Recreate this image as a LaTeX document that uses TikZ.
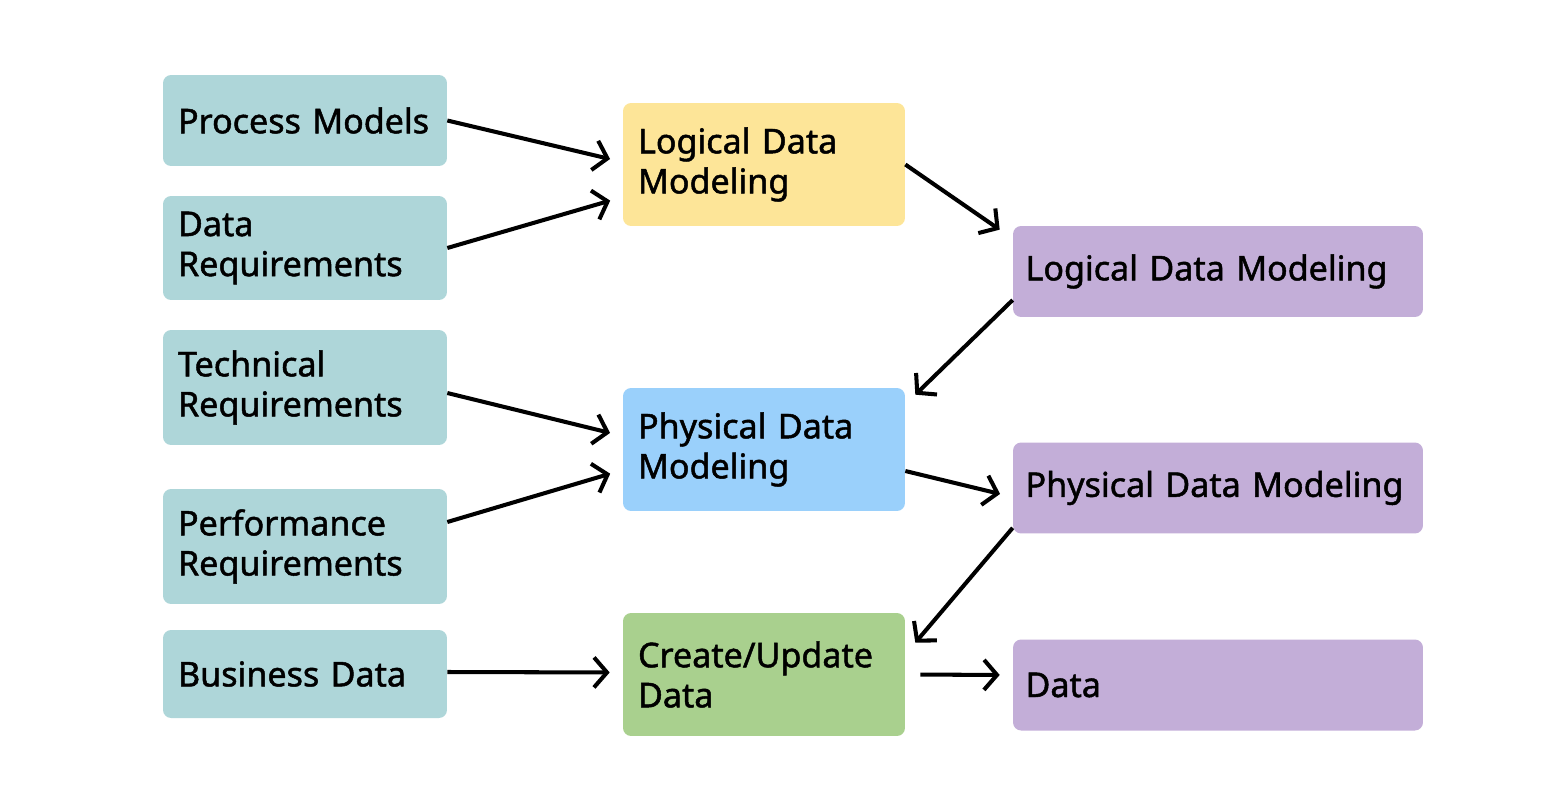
\documentclass[tikz,border=0pt]{standalone}
\usepackage{fontspec}
\setmainfont{Noto Sans}[FakeBold=1.4]
\usetikzlibrary{arrows.meta}
\definecolor{inputcol}{HTML}{AED6D9}
\definecolor{logicalcol}{HTML}{FDE598}
\definecolor{physicalcol}{HTML}{9AD0FB}
\definecolor{createcol}{HTML}{A9D08E}
\definecolor{outputcol}{HTML}{C3AED8}

\tikzset{
  box/.style={rounded corners=0.16cm, inner xsep=0.3cm, align=left,
    font=\fontsize{19.4}{22.8}\selectfont\bfseries},
  inbox/.style={box, fill=inputcol, minimum width=5.68cm, text width=5.08cm},
  midbox/.style={box, minimum width=5.64cm, minimum height=2.46cm, text width=5.04cm},
  outbox/.style={box, fill=outputcol, inner xsep=0.25cm, minimum width=8.2cm, minimum height=1.82cm, text width=7.7cm},
  arr/.style={line width=2.3pt, -{Straight Barb[length=0.26cm, width=0.6cm, line width=2.3pt]}}
}

\begin{document}
\begin{tikzpicture}[x=0.02cm, y=-0.02cm]
  \useasboundingbox (0,0) rectangle (1543,812);

  % input boxes
  \node [inbox, minimum height=1.82cm] (pm) at (305,120.5) {Process Models};
  \node [inbox, minimum height=2.08cm] (dr) at (305,248) {Data\\Requirements};
  \node [inbox, minimum height=2.30cm] (tr) at (305,387.5) {Technical\\Requirements};
  \node [inbox, minimum height=2.30cm] (pr) at (305,546.5) {Performance\\Requirements};
  \node [inbox, minimum height=1.76cm] (bd) at (305,674) {Business Data};

  % processes
  \node [midbox, fill=logicalcol] (ldm) at (764,164.5) {Logical Data\\Modeling};
  \node [midbox, fill=physicalcol] (pdm) at (764,449.5) {Physical Data\\Modeling};
  \node [midbox, fill=createcol] (cud) at (764,674.5) {Create/Update\\Data};

  % outputs
  \node [outbox] (lout) at (1218,271.5) {Logical Data Modeling};
  \node [outbox] (pout) at (1218,488) {Physical Data Modeling};
  \node [outbox] (dout) at (1218,685) {Data};

  \draw [arr, shorten >=0.26cm] (pm.east) -- ([yshift=0.05cm]ldm.west);
  \draw [arr, shorten >=0.26cm] (dr.east) -- ([yshift=-0.65cm]ldm.west);
  \draw [arr] (ldm.east) -- ([xshift=-0.26cm, yshift=-0.08cm]lout.north west);
  \draw [arr] ([yshift=-0.57cm]lout.west) -- ([xshift=0.2cm, yshift=-0.14cm]pdm.north east);
  \draw [arr, shorten >=0.26cm] ([yshift=-0.11cm]tr.east) -- ([yshift=0.27cm]pdm.west);
  \draw [arr, shorten >=0.26cm] ([yshift=0.49cm]pr.east) -- ([yshift=-0.41cm]pdm.west);
  \draw [arr, shorten >=0.26cm] ([yshift=-0.43cm]pdm.east) -- ([yshift=-0.18cm]pout.west);
  \draw [arr] ([yshift=0.12cm]pout.south west) -- ([xshift=0.2cm, yshift=-0.6cm]cud.north east);
  \draw [arr, shorten >=0.26cm] ([yshift=0.04cm]bd.east) -- ([yshift=0.04cm]cud.west);
  \draw [arr, shorten <=0.3cm, shorten >=0.26cm] (cud.east) -- ([yshift=0.2cm]dout.west);
\end{tikzpicture}
\end{document}
